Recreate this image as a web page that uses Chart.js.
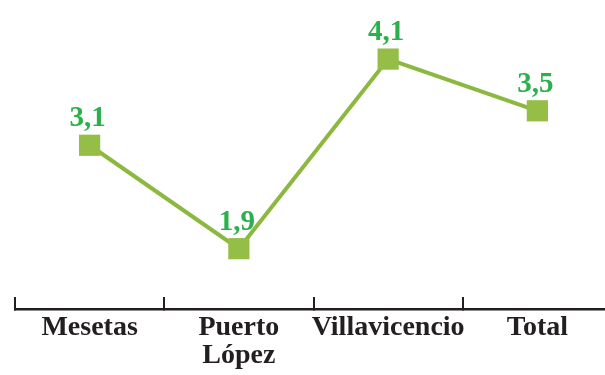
<!DOCTYPE html>
<html>
<head>
<meta charset="utf-8">
<script src="https://cdn.jsdelivr.net/npm/chart.js@4"></script>
<style>
  html, body { margin: 0; padding: 0; background: #ffffff; overflow: hidden; }
  /* canvas is a bit wider/taller than the window: the last category runs past the right edge */
  #wrap { width: 627px; height: 390px; position: relative; }
</style>
</head>
<body>
<div id="wrap"><canvas id="chart"></canvas></div>
<script>
// Data
const categories = ['Mesetas', ['Puerto', 'López'], 'Villavicencio', 'Total'];
const values = [3.1, 1.9, 4.1, 3.5];

const lineColor = '#8cb83f';
const markerColor = '#95be46';
const labelColor = '#2bb04b';
const axisColor = '#231f20';
const serif = "'Liberation Serif', 'DejaVu Serif', serif";

// value labels above the markers, comma decimals
const valueLabels = {
    id: 'valueLabels',
    afterDatasetsDraw(chart) {
        const ctx = chart.ctx;
        const meta = chart.getDatasetMeta(0);
        ctx.save();
        ctx.font = `bold 29px ${serif}`;
        ctx.fillStyle = labelColor;
        ctx.textAlign = 'center';
        ctx.textBaseline = 'alphabetic';
        meta.data.forEach((pt, i) => {
            const txt = values[i].toFixed(1).replace('.', ',');
            ctx.fillText(txt, pt.x - 2, pt.y - 19);
        });
        ctx.restore();
    }
};

new Chart(document.getElementById('chart'), {
    type: 'line',
    data: {
        labels: categories,
        datasets: [{
            data: values,
            borderColor: lineColor,
            borderWidth: 4,
            tension: 0,
            pointStyle: 'rect',
            pointRadius: 15,
            pointHoverRadius: 15,
            pointBackgroundColor: markerColor,
            pointBorderWidth: 0
        }]
    },
    options: {
        responsive: true,
        maintainAspectRatio: false,
        animation: false,
        layout: { padding: { top: 16, right: 1, bottom: 3, left: 12 } },
        plugins: {
            legend: { display: false },
            tooltip: { enabled: false }
        },
        scales: {
            x: {
                offset: true,
                border: { display: true, color: axisColor, width: 2.5 },
                grid: {
                    display: true,
                    offset: true,
                    drawOnChartArea: false,
                    drawTicks: true,
                    tickLength: -12,
                    color: axisColor,
                    lineWidth: 2
                },
                ticks: {
                    color: axisColor,
                    padding: 17,
                    autoSkip: false,
                    maxRotation: 0,
                    font: { family: serif, size: 28, weight: 'bold', lineHeight: 1.0 }
                }
            },
            y: {
                display: false,
                min: 1.2,
                max: 4.6
            }
        }
    },
    plugins: [valueLabels]
});
</script>
</body>
</html>
